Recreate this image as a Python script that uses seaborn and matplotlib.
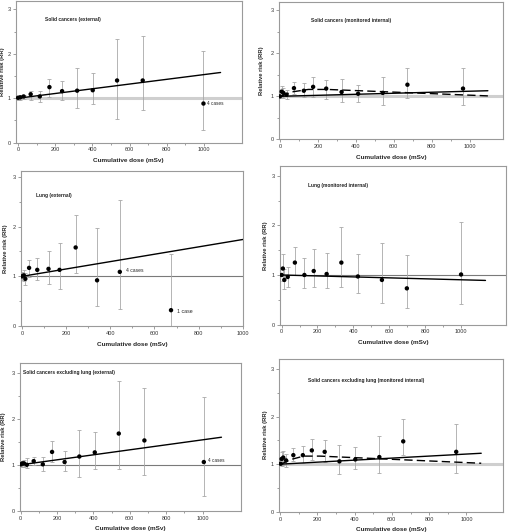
import numpy as np
import pandas as pd
import matplotlib
matplotlib.use("Agg")
import matplotlib.pyplot as plt
import seaborn as sns
from matplotlib.ticker import MultipleLocator, FixedLocator

# data (dose in mSv, relative risk with CI)

# solid cancers, external
p1_dose = [0, 12, 30, 68, 117, 169, 237, 318, 402, 533, 671, 998]
p1_rr = [1.01, 1.02, 1.04, 1.09, 1.04, 1.25, 1.16, 1.17, 1.18, 1.40, 1.40, 0.88]
p1_lo = [0.97, 0.96, 0.98, 0.96, 0.91, 1.03, 0.95, 0.77, 0.86, 0.54, 0.73, 0.28]
p1_hi = [1.05, 1.08, 1.07, 1.17, 1.17, 1.44, 1.38, 1.67, 1.56, 2.33, 2.41, 2.06]
p1_fit_x = [0, 1090]
p1_fit_y = [1.0, 1.58]

# solid cancers, monitored internal
p2_dose = [0, 9, 18, 35, 74, 126, 175, 244, 325, 412, 542, 672, 965]
p2_rr = [1.0, 1.11, 1.08, 1.04, 1.19, 1.13, 1.22, 1.18, 1.10, 1.06, 1.08, 1.27, 1.18]
p2_lo = [0.97, 0.98, 0.96, 0.93, 1.05, 0.98, 0.99, 0.93, 0.87, 0.86, 0.79, 0.95, 0.80]
p2_hi = [1.03, 1.23, 1.20, 1.15, 1.33, 1.30, 1.45, 1.39, 1.40, 1.26, 1.44, 1.65, 1.65]
p2_fit_x = [0, 1096]
p2_fit_y = [1.0, 1.13]
p2_dash_x = [5, 60, 150, 250, 1096]
p2_dash_y = [1.0, 1.10, 1.16, 1.16, 1.01]

# lung, external
p3_dose = [0, 8, 15, 32, 69, 120, 170, 243, 340, 443, 675]
p3_rr = [1.0, 1.02, 0.95, 1.17, 1.13, 1.15, 1.13, 1.58, 0.92, 1.09, 0.32]
p3_lo = [0.93, 0.90, 0.82, 0.98, 0.93, 0.85, 0.75, 1.07, 0.40, 0.35, 0.0]
p3_hi = [1.08, 1.12, 1.07, 1.33, 1.36, 1.51, 1.66, 2.23, 1.97, 2.54, 1.44]
p3_fit_x = [0, 1000]
p3_fit_y = [1.0, 1.74]

# lung, monitored internal
p4_dose = [0, 7, 15, 34, 74, 127, 179, 251, 333, 425, 559, 698, 1000]
p4_rr = [1.0, 1.13, 0.90, 0.96, 1.25, 1.0, 1.08, 1.02, 1.25, 0.97, 0.90, 0.73, 1.01]
p4_lo = [0.97, 0.88, 0.72, 0.76, 1.0, 0.73, 0.75, 0.73, 0.76, 0.63, 0.44, 0.34, 0.42]
p4_hi = [1.03, 1.42, 1.12, 1.17, 1.56, 1.34, 1.52, 1.45, 1.96, 1.43, 1.65, 1.40, 2.06]
p4_fit_x = [0, 1136]
p4_fit_y = [1.0, 0.89]

# solid cancers excluding lung, external
p5_dose = [0, 9, 18, 33, 71, 121, 172, 241, 322, 407, 539, 680, 1007]
p5_rr = [1.01, 1.03, 1.03, 1.0, 1.08, 1.01, 1.28, 1.06, 1.18, 1.27, 1.68, 1.53, 1.06]
p5_lo = [0.97, 0.96, 0.95, 0.93, 1.0, 0.87, 1.05, 0.87, 0.73, 0.90, 0.90, 0.77, 0.33]
p5_hi = [1.05, 1.08, 1.10, 1.14, 1.18, 1.16, 1.52, 1.30, 1.76, 1.71, 2.82, 2.68, 2.47]
p5_fit_x = [0, 1104]
p5_fit_y = [1.0, 1.60]

# solid cancers excluding lung, monitored internal
p6_dose = [4, 9, 18, 33, 72, 123, 171, 240, 319, 404, 533, 661, 945]
p6_rr = [1.01, 1.11, 1.14, 1.08, 1.19, 1.19, 1.29, 1.26, 1.06, 1.10, 1.15, 1.48, 1.26]
p6_lo = [0.98, 0.97, 0.99, 0.95, 1.07, 1.03, 1.09, 1.04, 0.79, 0.89, 0.81, 1.19, 0.81]
p6_hi = [1.05, 1.26, 1.28, 1.21, 1.35, 1.38, 1.53, 1.50, 1.40, 1.37, 1.60, 1.96, 1.84]
p6_fit_x = [0, 1079]
p6_fit_y = [1.0, 1.23]
p6_dash_x = [5, 60, 127, 215, 1079]
p6_dash_y = [1.0, 1.10, 1.17, 1.17, 1.02]

titles = ["Solid cancers (external)",
          "Solid cancers (monitored internal)",
          "Lung (external)",
          "Lung (monitored internal)",
          "Solid cancers excluding lung (external)",
          "Solid cancers excluding lung (monitored internal)"]
x_ticks = [0, 200, 400, 600, 800, 1000]
y_ticks = [0, 1, 2, 3]

sns.set_style("white")
plt.rcParams['font.family'] = ['Liberation Sans', 'DejaVu Sans']

fig = plt.figure(figsize=(5.1, 5.32), dpi=100)

# axes boxes [left, bottom, width, height]
boxes = [[0.031, 0.732, 0.443, 0.266],
         [0.547, 0.738, 0.439, 0.259],
         [0.041, 0.387, 0.435, 0.291],
         [0.549, 0.390, 0.443, 0.298],
         [0.039, 0.040, 0.433, 0.278],
         [0.547, 0.038, 0.439, 0.288]]
xlims = [(-12, 1204), (-5, 1175), (-5, 1000), (-9, 1250), (-5, 1210), (-5, 1195)]
ylims = [(0, 3.19), (0, 3.2), (0, 3.11), (0, 3.2), (0, 3.22), (0, 3.22)]
title_pos = [(0.128, 0.871), (0.143, 0.866), (0.07, 0.845),
             (0.122, 0.874), (0.015, 0.934), (0.131, 0.858)]
ylabel_x = [-0.046, -0.065, -0.056, -0.055, -0.064, -0.051]
thick_ref = [True, True, False, False, False, True]

panels = [
    (p1_dose, p1_rr, p1_lo, p1_hi, p1_fit_x, p1_fit_y, None, None),
    (p2_dose, p2_rr, p2_lo, p2_hi, p2_fit_x, p2_fit_y, p2_dash_x, p2_dash_y),
    (p3_dose, p3_rr, p3_lo, p3_hi, p3_fit_x, p3_fit_y, None, None),
    (p4_dose, p4_rr, p4_lo, p4_hi, p4_fit_x, p4_fit_y, None, None),
    (p5_dose, p5_rr, p5_lo, p5_hi, p5_fit_x, p5_fit_y, None, None),
    (p6_dose, p6_rr, p6_lo, p6_hi, p6_fit_x, p6_fit_y, p6_dash_x, p6_dash_y),
]

axes = []
for i, (dose, rr, lo, hi, fx, fy, dx, dy) in enumerate(panels):
    ax = fig.add_axes(boxes[i])
    axes.append(ax)
    rr = np.array(rr)
    yerr = [rr - np.array(lo), np.array(hi) - rr]

    if thick_ref[i]:
        ax.axhline(1, color='#cfcfcf', lw=2.2, zorder=1)
    else:
        ax.axhline(1, color='#7a7a7a', lw=0.8, zorder=1)

    ax.errorbar(dose, rr, yerr=yerr, fmt='none', ecolor='#a8a8a8',
                elinewidth=0.6, capsize=1.6, capthick=0.6, zorder=2)
    sns.lineplot(x=fx, y=fy, ax=ax, color='black', lw=1.0, zorder=3)
    if dx is not None:
        sns.lineplot(x=dx, y=dy, ax=ax, color='black', lw=1.0,
                     linestyle=(0, (6, 3)), zorder=3)
    sns.scatterplot(x=dose, y=rr, ax=ax, color='black', s=10,
                    edgecolor='none', zorder=4)

    ax.set_xlim(*xlims[i])
    ax.set_ylim(*ylims[i])
    ax.xaxis.set_major_locator(FixedLocator(x_ticks))
    ax.xaxis.set_minor_locator(FixedLocator([100, 300, 500, 700, 900]))
    ax.yaxis.set_major_locator(FixedLocator(y_ticks))
    ax.yaxis.set_minor_locator(MultipleLocator(0.5))
    ax.tick_params(which='both', direction='out', length=2, width=0.5,
                   color='#777777', labelsize=4, labelcolor='#333333', pad=1.5,
                   bottom=True, left=True)
    ax.tick_params(which='minor', length=1.2)
    for sp in ax.spines.values():
        sp.set_color('#9a9a9a')
        sp.set_linewidth(0.8)
    ax.set_xlabel("Cumulative dose (mSv)", fontsize=4.6, fontweight='bold',
                  labelpad=4)
    ax.set_ylabel("Relative risk (RR)", fontsize=4.2, fontweight='bold')
    ax.yaxis.set_label_coords(ylabel_x[i], 0.5)
    ax.text(title_pos[i][0], title_pos[i][1], titles[i], transform=ax.transAxes,
            fontsize=3.5, fontweight='bold', color='#222222', va='center')

# case-count notes
axes[0].text(1015, 0.87, "4 cases", fontsize=3.4, va='center')
axes[2].text(469, 1.11, "4 cases", fontsize=3.6, va='center')
axes[2].text(701, 0.30, "1 case", fontsize=3.8, va='center')
axes[4].text(1031, 1.09, "4 cases", fontsize=3.4, va='center')

plt.savefig("out.png", dpi=100)
